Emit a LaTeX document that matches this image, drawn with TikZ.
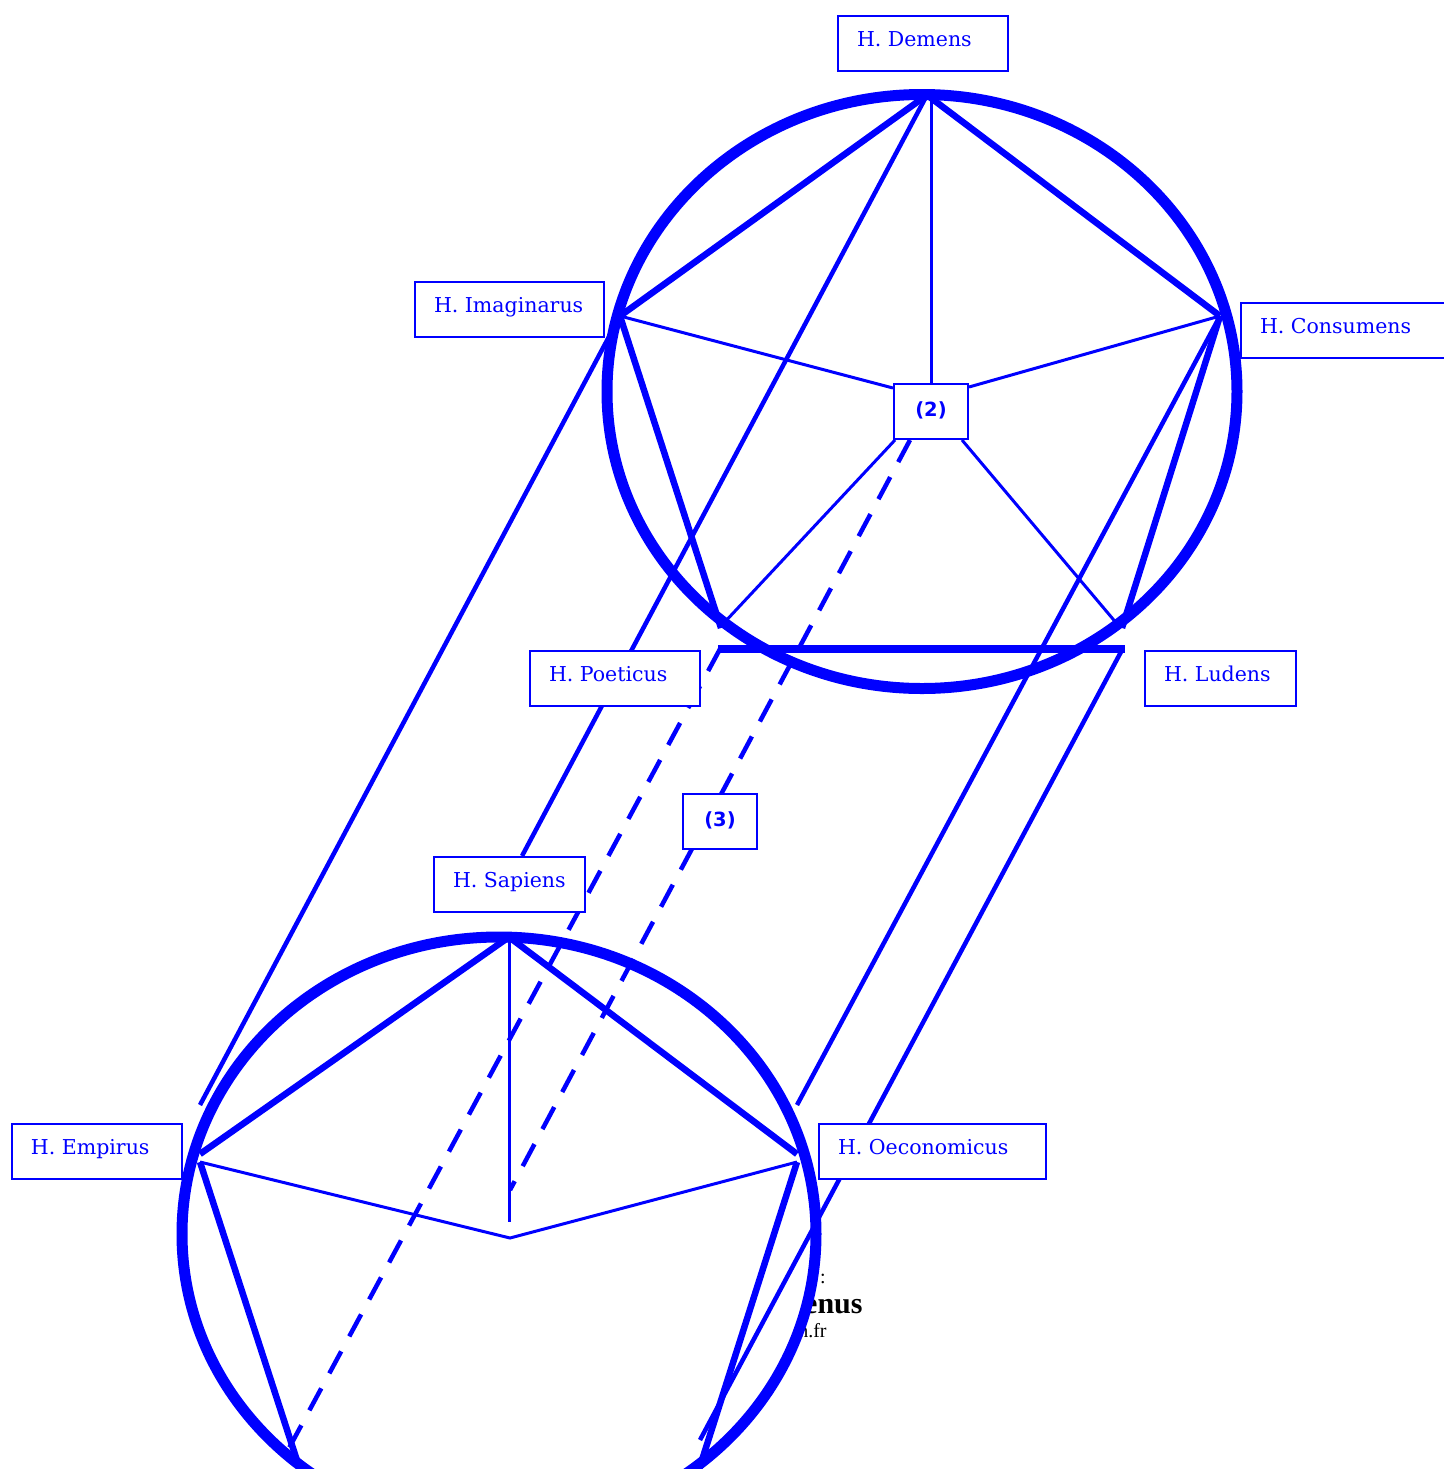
\documentclass[tikz,border=0pt]{standalone}
\usepackage{fontspec}
\setmainfont{Liberation Serif}
\newfontfamily\lblfont{DejaVu Serif}
\newfontfamily\numfont{DejaVu Sans}
\begin{document}
\begin{tikzpicture}[x=0.5pt,y=-0.5pt,
  ring/.style={draw=blue, line width=5.5pt, fill=white},
  pent/.style={draw=blue, line width=3.25pt},
  pentb/.style={draw=blue, line width=3.75pt},
  spoke/.style={draw=blue, line width=1.5pt},
  longl/.style={draw=blue, line width=2.25pt},
  dashl/.style={draw=blue, line width=2.25pt, dash pattern=on 12.5pt off 8.5pt},
  lbl/.style={draw=blue, fill=white, line width=1pt, text=blue,
    font=\lblfont\fontsize{10.25}{12}\selectfont, anchor=north west,
    inner xsep=9.5pt, inner ysep=0pt, minimum height=27.5pt,
    text height=7.5pt, text depth=5pt},
  numbox/.style={draw=blue, fill=white, line width=1pt, text=blue,
    font=\numfont\bfseries\fontsize{9.75}{12}\selectfont,
    inner sep=0pt, minimum width=37pt, minimum height=27.5pt,
    text height=8pt, text depth=3.5pt},
  foot/.style={inner sep=0pt, anchor=base east, text=black}]
\useasboundingbox (0,0) rectangle (1444,1469);

% footer text (partly hidden by the lower circle)
\node[foot, font=\fontsize{10}{12}\selectfont] (f1) at (826,1283) {:};
\node[foot, font=\bfseries\fontsize{15}{18}\selectfont] (f2) at (863,1313) {enus};
\node[foot, font=\fontsize{10}{12}\selectfont] (f3) at (827,1337) {n.fr};

% circles
\draw[ring] (922,391.5) ellipse [x radius=315, y radius=297];
\draw[ring] (499,1234) ellipse [x radius=317, y radius=297];

% top pentagon vertices
\coordinate (D) at (927,95);
\coordinate (Dv) at (931,95);
\coordinate (I) at (620,316);
\coordinate (C) at (1220,316);
\coordinate (P) at (721,628);
\coordinate (L) at (1122,628);
\coordinate (Pb) at (718,649);
\coordinate (Lb) at (1125,649);
% bottom pentagon vertices
\coordinate (S) at (509,937);
\coordinate (E) at (200,1154);
\coordinate (O) at (797,1154);
\coordinate (Ea) at (200,1162);
\coordinate (Oa) at (797,1162);
\coordinate (Eb) at (304,1482);
\coordinate (Ob) at (695,1482);
\coordinate (Q) at (510,1238);
\coordinate (Sv) at (509,1222);
% spoke ends at box (2)
\coordinate (s2i) at (893,388);
\coordinate (s2c) at (969,387);
\coordinate (s2p) at (895,440);
\coordinate (s2l) at (962,440);
\coordinate (s2t) at (931,384);
\coordinate (Pe) at (722,625);
\coordinate (Le) at (1118,625);
% long line ends
\coordinate (eI) at (200,1105);
\coordinate (eD) at (522,856);
\coordinate (eC) at (797,1105);
\coordinate (sL) at (1122,650);
\coordinate (eL) at (700,1440);
\coordinate (sd1) at (720,649);
\coordinate (ed1) at (288,1450);
\coordinate (sd2) at (910,440);
\coordinate (ed2) at (510,1190);

% thick pentagon edges (top)
\draw[pent] (D) -- (I);
\draw[pent] (D) -- (C);
\draw[pent] (I) -- (P);
\draw[pent] (C) -- (L);
\draw[pentb] (Pb) -- (Lb);
% thick pentagon edges (bottom)
\draw[pent] (S) -- (E);
\draw[pent] (S) -- (O);
\draw[pent] (Ea) -- (Eb);
\draw[pent] (Oa) -- (Ob);

% spokes
\draw[spoke] (Dv) -- (s2t);
\draw[spoke] (I) -- (s2i);
\draw[spoke] (C) -- (s2c);
\draw[spoke] (s2p) -- (Pe);
\draw[spoke] (s2l) -- (Le);
\draw[spoke] (S) -- (Sv);
\draw[spoke] (Ea) -- (Q) -- (Oa);

% long parallel lines
\draw[longl] (I) -- (eI);
\draw[longl] (D) -- (eD);
\draw[longl] (C) -- (eC);
\draw[longl] (sL) -- (eL);

% dashed lines
\draw[dashl] (sd1) -- (ed1);
\draw[dashl] (sd2) -- (ed2);

% label boxes
\node[lbl] (demens) at (837,15)   {\makebox[66pt][l]{H. Demens}};
\node[lbl] (imag)   at (414,281)  {\makebox[75.5pt][l]{H. Imaginarus}};
\node[lbl] (cons)   at (1240,302) {\makebox[85.5pt][l]{H. Consumens}};
\node[lbl] (poet)   at (529,650)  {\makebox[66pt][l]{H. Poeticus}};
\node[lbl] (lud)    at (1144,650) {\makebox[56.5pt][l]{H. Ludens}};
\node[lbl] (sap)    at (433,856)  {\makebox[56.5pt][l]{H. Sapiens}};
\node[lbl] (emp)    at (11,1123)  {\makebox[66pt][l]{H. Empirus}};
\node[lbl] (oec)    at (818,1123) {\makebox[94.5pt][l]{H. Oeconomicus}};
\node[numbox] (n2) at (931,411.5) {(2)};
\node[numbox] (n3) at (720,821.5) {(3)};
\end{tikzpicture}
\end{document}
